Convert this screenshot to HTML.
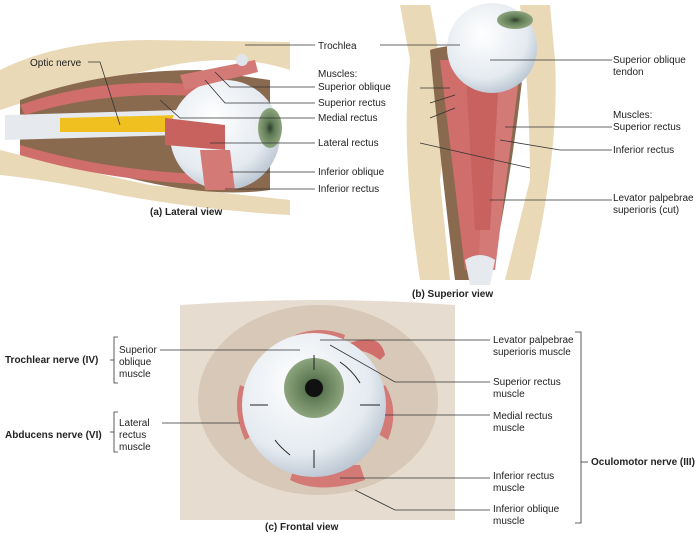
<!DOCTYPE html>
<html><head><meta charset="utf-8"><style>
html,body{margin:0;padding:0;background:#fff;}
svg{display:block;font-family:"Liberation Sans",sans-serif;font-size:10px;fill:#222;}
.b{font-weight:bold;}
</style></head><body>
<svg width="697" height="533" viewBox="0 0 697 533">
<defs>
<radialGradient id="eye" cx="0.4" cy="0.35" r="0.7"><stop offset="0" stop-color="#fff"/><stop offset="0.7" stop-color="#e4eaf0"/><stop offset="1" stop-color="#b6c2cf"/></radialGradient>
<radialGradient id="iris" cx="0.5" cy="0.5" r="0.5"><stop offset="0" stop-color="#2f3a2a"/><stop offset="0.35" stop-color="#5e7a55"/><stop offset="1" stop-color="#8ea57e"/></radialGradient>
</defs>
<!-- (a) lateral view -->
<path d="M0,70 Q60,40 150,40 L290,42 L290,70 Q230,50 150,70 Q60,90 0,110 Z" fill="#ead9b6"/>
<path d="M0,150 Q80,170 150,185 L290,200 L290,215 Q200,210 120,195 Q50,180 0,175 Z" fill="#ead9b6"/>
<path d="M20,100 Q100,70 200,70 L270,80 L270,190 Q200,200 100,170 Q40,155 20,150 Z" fill="#8a6a4f"/>
<path d="M5,115 L180,110 L180,135 L5,140 Z" fill="#e6e9ee"/>
<path d="M60,118 L180,115 L180,132 L60,132 Z" fill="#f0c020"/>
<path d="M20,105 Q120,70 240,90 L240,100 Q120,85 25,115 Z" fill="#cf6e6a"/>
<path d="M20,145 Q120,175 240,175 L240,185 Q120,185 20,155 Z" fill="#cf6e6a"/>
<circle cx="225" cy="135" r="55" fill="url(#eye)"/>
<ellipse cx="270" cy="128" rx="12" ry="20" fill="url(#iris)"/>
<path d="M165,118 L225,125 L225,150 L165,145 Z" fill="#c8625f"/>
<path d="M200,150 L230,150 L235,190 L205,190 Z" fill="#d47a76"/>
<path d="M180,75 L255,60 L258,72 L185,90 Z" fill="#d47a76"/>
<circle cx="242" cy="60" r="6" fill="#dfe5ea"/>
<text x="150" y="215" class="b">(a) Lateral view</text>
<g stroke="#333" stroke-width="0.8" fill="none">
<path d="M88,62 H100 L120,125"/><path d="M245,45 H315"/>
<path d="M215,72 L230,87 H315"/><path d="M205,80 L225,103 H315"/>
<path d="M160,100 L180,118 H315"/><path d="M210,143 H315"/>
<path d="M230,172 H315"/><path d="M225,189 H315"/>
</g>
<text x="30" y="66">Optic nerve</text>
<text x="318" y="49">Trochlea</text>
<text x="318" y="77">Muscles:</text>
<text x="318" y="90">Superior oblique</text>
<text x="318" y="106">Superior rectus</text>
<text x="318" y="121">Medial rectus</text>
<text x="318" y="146">Lateral rectus</text>
<text x="318" y="175">Inferior oblique</text>
<text x="318" y="192">Inferior rectus</text>
<!-- (b) superior view -->
<path d="M400,5 L430,5 Q450,100 440,180 L450,280 L420,280 Q400,150 410,60 Z" fill="#ead9b6"/>
<path d="M550,5 L520,5 Q530,100 530,180 L505,280 L530,280 Q560,150 555,60 Z" fill="#ead9b6"/>
<path d="M430,50 Q460,40 525,50 Q515,160 490,280 L455,280 Q440,160 430,50 Z" fill="#8a6a4f"/>
<path d="M440,60 L470,60 L485,270 L465,270 Z" fill="#cf6e6a"/>
<path d="M490,70 L520,70 L495,270 L478,270 Z" fill="#d47a76"/>
<path d="M465,60 L500,60 L490,230 L475,230 Z" fill="#c8625f"/>
<ellipse cx="492" cy="48" rx="45" ry="45" fill="url(#eye)"/>
<ellipse cx="515" cy="20" rx="18" ry="9" fill="url(#iris)"/>
<path d="M465,260 Q480,250 495,260 L490,285 L470,285 Z" fill="#e6e9ee"/>
<text x="412" y="297" class="b">(b) Superior view</text>
<g stroke="#333" stroke-width="0.8" fill="none">
<path d="M380,45 H460"/><path d="M490,60 H612"/>
<path d="M420,88 L450,88"/><path d="M430,103 L455,95"/>
<path d="M430,118 L455,108"/><path d="M420,143 L530,168"/>
<path d="M505,127 H612"/><path d="M500,140 L560,150 H612"/>
<path d="M490,200 H612"/>
</g>
<text x="613" y="63">Superior oblique</text><text x="613" y="75">tendon</text>
<text x="613" y="118">Muscles:</text>
<text x="613" y="130">Superior rectus</text>
<text x="613" y="153">Inferior rectus</text>
<text x="613" y="201">Levator palpebrae</text><text x="613" y="213">superioris (cut)</text>
<!-- (c) frontal -->
<path d="M180,305 Q320,295 455,305 L455,520 L180,520 Z" fill="#e6ddd0"/>
<ellipse cx="318" cy="400" rx="120" ry="95" fill="#d8c8b8"/>
<path d="M295,335 Q320,325 345,335 L340,352 L300,352 Z" fill="#d47a76"/>
<path d="M240,385 Q232,410 245,440 L262,430 L262,395 Z" fill="#d47a76"/>
<path d="M385,385 Q400,410 388,440 L372,430 L372,395 Z" fill="#d47a76"/>
<path d="M290,480 Q320,495 365,480 L360,465 L295,465 Z" fill="#d47a76"/>
<path d="M345,345 Q380,330 385,355 L380,360 Q360,345 350,355 Z" fill="#cf6e6a"/>
<circle cx="314" cy="405" r="72" fill="url(#eye)"/>
<circle cx="314" cy="388" r="30" fill="url(#iris)"/>
<circle cx="314" cy="388" r="9" fill="#111"/>
<g stroke="#222" stroke-width="1" fill="none">
<path d="M314,370 V355"/><path d="M314,450 V468"/><path d="M268,405 H250"/><path d="M360,405 H380"/>
<path d="M340,362 Q352,370 360,383"/><path d="M290,455 Q280,447 275,440"/>
</g>
<text x="265" y="530" class="b">(c) Frontal view</text>
<g stroke="#333" stroke-width="0.8" fill="none">
<path d="M118,337 H114 V383 H118"/><path d="M114,360 H110"/>
<path d="M118,412 H114 V452 H118"/><path d="M114,432 H110"/>
<path d="M160,350 H300"/><path d="M162,423 H240"/>
<path d="M320,340 H490"/><path d="M330,345 L395,382 H490"/>
<path d="M385,415 H490"/><path d="M340,478 H490"/><path d="M355,490 L395,510 H490"/>
<path d="M575,332 H581 V523 H575"/><path d="M581,462 H588"/>
</g>
<text x="5" y="363" class="b">Trochlear nerve (IV)</text>
<text x="119" y="353">Superior</text><text x="119" y="365">oblique</text><text x="119" y="377">muscle</text>
<text x="5" y="438" class="b">Abducens nerve (VI)</text>
<text x="119" y="426">Lateral</text><text x="119" y="438">rectus</text><text x="119" y="450">muscle</text>
<text x="493" y="343">Levator palpebrae</text><text x="493" y="355">superioris muscle</text>
<text x="493" y="385">Superior rectus</text><text x="493" y="397">muscle</text>
<text x="493" y="419">Medial rectus</text><text x="493" y="431">muscle</text>
<text x="493" y="479">Inferior rectus</text><text x="493" y="491">muscle</text>
<text x="493" y="512">Inferior oblique</text><text x="493" y="524">muscle</text>
<text x="591" y="465" class="b">Oculomotor nerve (III)</text>
</svg>
</body></html>
